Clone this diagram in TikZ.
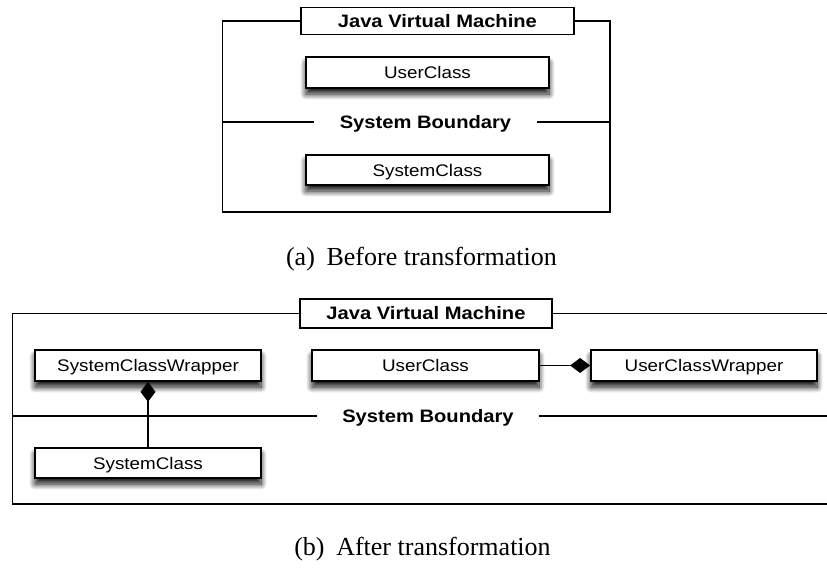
\documentclass[tikz,border=0pt]{standalone}
\usepackage{fontspec}
\setmainfont{Liberation Serif}
\newfontfamily\boxfont[FakeStretch=1.12]{Liberation Sans}
\usetikzlibrary{arrows.meta,shadows.blur}
\tikzset{
  classbox/.style={draw=black, line width=1.8pt, fill=white, inner sep=0pt,
    font=\boxfont\fontsize{16.8}{18}\selectfont, text height=12pt, text depth=0pt,
    blur shadow={shadow xshift=0pt, shadow yshift=-6pt, shadow blur radius=6pt, shadow opacity=95, shadow blur steps=12}},
  titlebox/.style={draw=black, line width=1.6pt, fill=white, inner sep=0pt,
    font=\boxfont\bfseries\fontsize{18}{20}\selectfont, text height=12.9pt, text depth=0pt},
  boundary/.style={fill=white, inner sep=0pt,
    font=\boxfont\bfseries\fontsize{18}{20}\selectfont, text height=12.9pt, text depth=0pt},
  frame/.style={draw=black, line width=1.5pt},
  compose/.style={draw=black, line width=1.5pt, -{Diamond[length=20pt,width=15pt]}},
  caption/.style={font=\fontsize{26}{30}\selectfont, inner sep=0pt, text height=17.2pt, text depth=0pt}
}
\begin{document}
\begin{tikzpicture}[x=1pt,y=-1pt]
\useasboundingbox (0,0) rectangle (827,574);
% ---------- (a) ----------
\node[classbox, minimum width=243pt, minimum height=31pt] (userA) at (427.5,72.5) {UserClass};
\node[classbox, minimum width=243pt, minimum height=30pt] (sysA) at (427.5,170) {SystemClass};
\node[boundary, minimum width=223pt, minimum height=30pt] (sbA) at (425.5,122) {System Boundary};
\node[titlebox, minimum width=273pt, minimum height=27pt] (jvmA) at (437.4,21) {Java Virtual Machine};
\coordinate (aTL) at (222.7,21);
\coordinate (aBR) at (610,212);
\draw[frame] (jvmA.west) -- (aTL) |- (aBR) |- (jvmA.east);
\draw[frame] (sbA.west) -- (sbA.west -| aTL);
\draw[frame] (sbA.east) -- (sbA.east -| aBR);
\node[caption] (capA) at (421.5,257) {(a)\hspace{0.45em}Before transformation};
% ---------- (b) ----------
\node[classbox, minimum width=226pt, minimum height=31pt] (scw) at (148,365.5) {SystemClassWrapper};
\node[classbox, minimum width=227pt, minimum height=31pt] (ucB) at (425.5,365.5) {UserClass};
\node[classbox, minimum width=226pt, minimum height=31pt] (ucw) at (704,365.5) {UserClassWrapper};
\node[classbox, minimum width=226pt, minimum height=30pt] (sysB) at (148,463) {SystemClass};
\node[boundary, minimum width=222pt, minimum height=32pt] (sbB) at (428,416) {System Boundary};
\node[titlebox, minimum width=252pt, minimum height=29pt] (jvmB) at (426,313.5) {Java Virtual Machine};
\coordinate (bTL) at (12.7,313.5);
\coordinate (bBL) at (12.7,504);
\coordinate (bBR) at (827,504);
\coordinate (bTR) at (827,313.5);
\draw[frame] (jvmB.west) -- (bTL) -- (bBL) -- (bBR);
\draw[frame] (jvmB.east) -- (bTR);
\draw[frame] (sbB.west) -- (sbB.west -| bTL);
\draw[frame] (sbB.east) -- (sbB.east -| bBR);
\draw[compose] (ucB.east) -- (ucw.west);
\draw[compose] (sysB.north) -- (scw.south);
\node[caption] (capB) at (422.5,547) {(b)\hspace{0.45em}After transformation};
\end{tikzpicture}
\end{document}
